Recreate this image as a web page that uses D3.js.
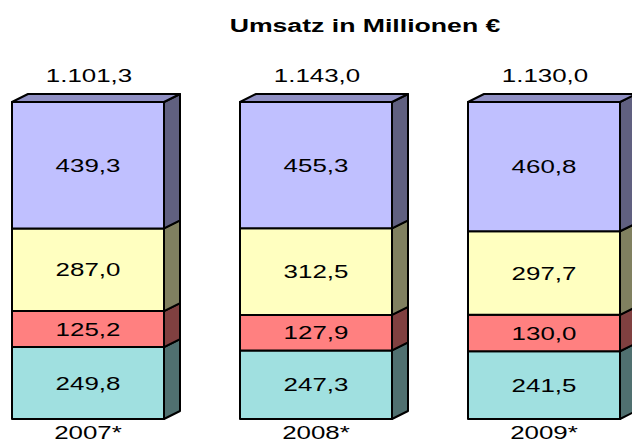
<!DOCTYPE html>
<html>
<head>
<meta charset="utf-8">
<script src="https://cdn.jsdelivr.net/npm/d3@7"></script>
<style>
  body { margin: 0; background: #fff; }
  text { font-family: "Liberation Sans", Arial, sans-serif; fill: #000; }
</style>
</head>
<body>
<div id="chart"></div>
<script>
const years   = ["2007*", "2008*", "2009*"];
const totals  = ["1.101,3", "1.143,0", "1.130,0"];
const keys    = ["a", "b", "c", "d"];           // bottom -> top
const valsA   = [249.8, 247.3, 241.5];
const valsB   = [125.2, 127.9, 130.0];
const valsC   = [287.0, 312.5, 297.7];
const valsD   = [439.3, 455.3, 460.8];
const fronts  = ["#a0e0e0", "#ff8080", "#ffffc0", "#c0c0ff"];
const sides   = ["#507070", "#804040", "#808060", "#606080"];
const topFace = "#9090c4";

const width = 632, height = 441;
const dx = 16, dy = 8;
const fmt = v => d3.format(".1f")(v).replace(".", ",");

const rows = years.map((y, i) => ({
  year: y, a: valsA[i], b: valsB[i], c: valsC[i], d: valsD[i]
}));

const series = d3.stack().keys(keys).offset(d3.stackOffsetExpand)(rows);

const x = d3.scaleBand()
  .domain(years)
  .range([12, 620])
  .paddingInner(1 / 3)
  .paddingOuter(0);

const y = d3.scaleLinear()
  .domain([0, 1])
  .range([419, 102]);

const svg = d3.select("#chart")
  .append("svg")
    .attr("width", width)
    .attr("height", height);

// text in the source is stretched sideways
function label(g, tx, ty, str, size, weight, sx) {
  g.append("text")
    .attr("transform", `translate(${tx},${ty}) scale(${sx || 1.44},1)`)
    .attr("text-anchor", "middle")
    .style("font-size", size + "px")
    .style("font-weight", weight || "normal")
    .text(str);
}

svg.call(label, 365, 32, "Umsatz in Millionen €", 18, "bold", 1.48);

series.forEach((s, si) => {
  s.forEach(d => {
    const x0 = x(d.data.year), x1 = x0 + x.bandwidth();
    const yT = y(d[1]), yB = y(d[0]);
    const g = svg.append("g")
      .attr("stroke", "#000")
      .attr("stroke-width", 2)
      .attr("stroke-linejoin", "round");

    g.append("rect")
      .attr("x", x0).attr("y", yT)
      .attr("width", x.bandwidth()).attr("height", yB - yT)
      .attr("fill", fronts[si]);

    g.append("polygon")
      .attr("points", [[x1, yT], [x1 + dx, yT - dy], [x1 + dx, yB - dy], [x1, yB]].join(" "))
      .attr("fill", sides[si]);

    if (si === keys.length - 1) {
      g.append("polygon")
        .attr("points", [[x0, yT], [x0 + dx, yT - dy], [x1 + dx, yT - dy], [x1, yT]].join(" "))
        .attr("fill", topFace);
    }

    svg.call(label, (x0 + x1) / 2, (yT + yB) / 2 + 6.5, fmt(d.data[keys[si]]), 18);
  });
});

years.forEach((yr, i) => {
  const cx = x(yr) + x.bandwidth() / 2;
  svg.call(label, cx + 1, 82, totals[i], 18);
  svg.call(label, cx, 439, yr, 18);
});
</script>
</body>
</html>
